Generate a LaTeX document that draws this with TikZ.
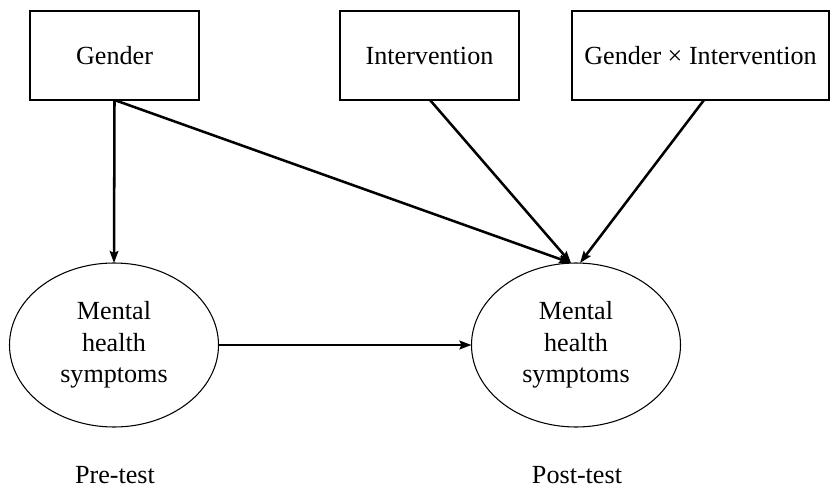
\documentclass[tikz,border=0pt]{standalone}
\usepackage{fontspec}
\setmainfont{Liberation Serif}
\usetikzlibrary{shapes.geometric,arrows.meta,calc}
\begin{document}
\begin{tikzpicture}[x=0.75pt,y=-0.75pt,
  every node/.style={font=\fontsize{19.6}{23.5}\selectfont, inner sep=0pt, outer sep=0pt},
  varbox/.style={draw, line width=0.9pt, minimum height=66.75pt},
  latent/.style={draw, ellipse, line width=0.8pt, minimum width=156.75pt, minimum height=123pt, align=center},
  path/.style={line width=1.9pt, -{Stealth[length=9pt,width=6.5pt,inset=1.5pt]}}
]
\useasboundingbox (0,0) rectangle (830,488);
\node[varbox, minimum width=126.75pt] (gender) at (114.5,55.5) {Gender};
\node[varbox, minimum width=134.25pt] (interv) at (429.5,55.5) {Intervention};
\node[varbox, minimum width=192.75pt] (gxi) at (700.5,55.5) {Gender × Intervention};
\node[latent] (pre) at (114,345) {Mental\\health\\symptoms};
\node[latent] (post) at (576,345) {Mental\\health\\symptoms};
\node (prelab) at (115,475) {Pre-test};
\node (postlab) at (577,475) {Post-test};
\draw[path] (gender.south) -- (pre.north);
\draw[path] (gender.south) -- ($(post.north)+(-5,0)$);
\draw[path] ($(interv.south)+(0.5,0)$) -- ($(post.north)+(-5,0)$);
\draw[path] ($(gxi.south)+(3.5,0)$) -- ($(post.north)+(4,0)$);
\draw[path] (pre.east) -- (post.west);
\end{tikzpicture}
\end{document}
